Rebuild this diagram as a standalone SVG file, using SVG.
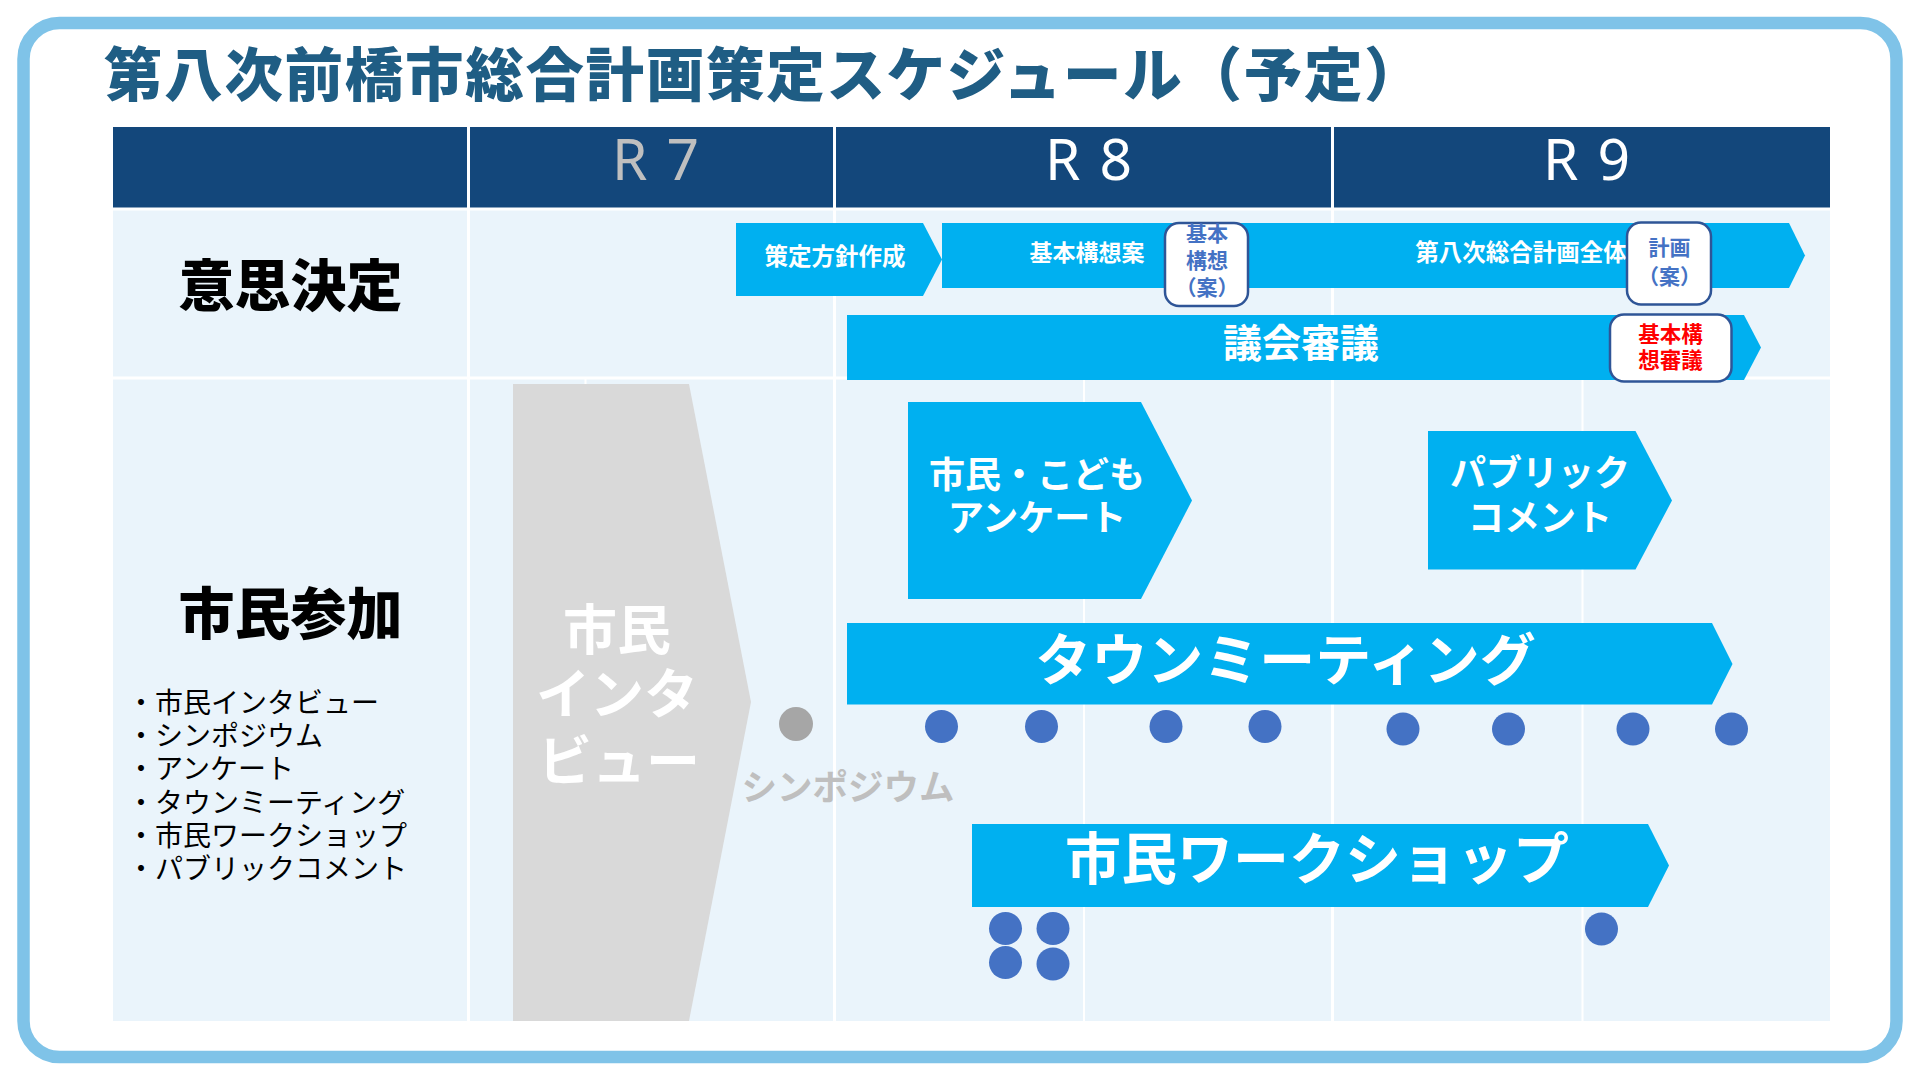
<svg xmlns="http://www.w3.org/2000/svg" width="1920" height="1080" viewBox="0 0 1920 1080">
<style>
.jp{font-family:"Noto Sans CJK JP","Noto Sans CJK SC",sans-serif}
.b{font-weight:700}
.h{font-weight:900}
.w{fill:#FFFFFF}
.cy{fill:#00B0F0}
.dot{fill:#4472C4}
.box{fill:#FFFFFF;stroke:#2F5597;stroke-width:2.5}
.yr{font-family:"Noto Sans","Open Sans",sans-serif;font-weight:400;font-size:57px;letter-spacing:19px}
.grid{stroke:#FFFFFF;stroke-width:3}
.sub{stroke:#FFFFFF;stroke-width:2}
.lst{font-size:28px;fill:#000000}
</style>
<rect x="0" y="0" width="1920" height="1080" fill="#FFFFFF"/>
<rect x="23.5" y="23" width="1873" height="1034" rx="36" ry="36" fill="#FFFFFF" stroke="#7FC3E8" stroke-width="12.5"/>
<text class="jp h" x="104" y="96" font-size="58.5" letter-spacing="1.7" fill="#1F5D84">第八次前橋市総合計画策定スケジュール（予定）</text>

<g id="table">
<rect x="113" y="127" width="1717" height="81" fill="#13477B"/>
<rect x="113" y="210" width="1717" height="811" fill="#EAF4FB"/>
<line class="grid" x1="113" y1="209" x2="1830" y2="209"/>
<line class="grid" x1="113" y1="378" x2="1830" y2="378"/>
<line class="grid" x1="468.5" y1="127" x2="468.5" y2="1021"/>
<line class="grid" x1="834.5" y1="127" x2="834.5" y2="1021"/>
<line class="grid" x1="1332.5" y1="127" x2="1332.5" y2="1021"/>
<line class="sub" x1="585.5" y1="379" x2="585.5" y2="1021"/>
<line class="sub" x1="1084" y1="379" x2="1084" y2="1021"/>
<line class="sub" x1="1582.5" y1="379" x2="1582.5" y2="1021"/>
<text class="yr" x="612" y="180" fill="#BFBFBF">R7</text>
<text class="yr" x="1045" y="180" fill="#FFFFFF">R8</text>
<text class="yr" x="1543" y="180" fill="#FFFFFF">R9</text>
<text class="jp h" x="290.5" y="306" font-size="56" text-anchor="middle" fill="#000000">意思決定</text>
<text class="jp h" x="290.5" y="634" font-size="56" text-anchor="middle" fill="#000000">市民参加</text>
<g class="jp lst">
<text x="127" y="712.5">・市民インタビュー</text>
<text x="127" y="745.5">・シンポジウム</text>
<text x="127" y="779">・アンケート</text>
<text x="127" y="812.5">・タウンミーティング</text>
<text x="127" y="845.5">・市民ワークショップ</text>
<text x="127" y="879">・パブリックコメント</text>
</g>
</g>

<g id="interview">
<polygon points="513,384 689,384 751,702 689,1021 513,1021" fill="#D9D9D9"/>
<g class="jp b w" font-size="54" text-anchor="middle">
<text x="617" y="650">市民</text>
<text x="617" y="714">インタ</text>
<text x="619" y="781">ビュー</text>
</g>
</g>

<g id="symposium">
<circle cx="796" cy="724" r="17" fill="#A6A6A6"/>
<text class="jp b" x="848" y="800" font-size="35.5" text-anchor="middle" fill="#BFBFBF">シンポジウム</text>
</g>

<g id="decision">
<g id="policy">
<polygon class="cy" points="736,223 923,223 942,259.5 923,296 736,296"/>
<text class="jp b w" x="835" y="265" font-size="23.5" text-anchor="middle">策定方針作成</text>
</g>
<g id="basic-draft">
<polygon class="cy" points="942,223 1210,223 1210,288 942,288"/>
<text class="jp b w" x="1087" y="261" font-size="23" text-anchor="middle">基本構想案</text>
</g>
<g id="whole-plan">
<polygon class="cy" points="1230,223 1789,223 1805,255.5 1789,288 1230,288"/>
<text class="jp b w" x="1521" y="261" font-size="23.5" text-anchor="middle">第八次総合計画全体</text>
</g>
<g id="basic-box">
<rect class="box" x="1165" y="223" width="83" height="83" rx="14"/>
<g class="jp b" font-size="21" fill="#4472C4" text-anchor="middle">
<text x="1207" y="241">基本</text>
<text x="1207" y="268">構想</text>
<text x="1207" y="295">（案）</text>
</g>
</g>
<g id="plan-box">
<rect class="box" x="1627" y="222.5" width="84" height="82" rx="14"/>
<g class="jp b" font-size="21" fill="#4472C4" text-anchor="middle">
<text x="1669.5" y="255">計画</text>
<text x="1669.5" y="284">（案）</text>
</g>
</g>
<g id="council">
<polygon class="cy" points="847,315 1744,315 1761,347.5 1744,380 847,380"/>
<text class="jp b w" x="1301" y="357" font-size="39" text-anchor="middle">議会審議</text>
</g>
<g id="council-box">
<rect class="box" x="1610" y="314.5" width="121.5" height="67" rx="14"/>
<g class="jp b" font-size="21.5" fill="#FF0000" text-anchor="middle">
<text x="1670.5" y="342">基本構</text>
<text x="1670.5" y="368">想審議</text>
</g>
</g>
</g>

<g id="survey">
<polygon class="cy" points="908,402 1141,402 1192,500.5 1141,599 908,599"/>
<g class="jp b w" font-size="36" text-anchor="middle">
<text x="1037" y="488">市民・こども</text>
<text x="1037" y="531">アンケート</text>
</g>
</g>

<g id="public-comment">
<polygon class="cy" points="1428,431 1635.5,431 1672,500.5 1635.5,569.5 1428,569.5"/>
<g class="jp b w" font-size="36" text-anchor="middle">
<text x="1540" y="486">パブリック</text>
<text x="1540" y="531">コメント</text>
</g>
</g>

<g id="town-meeting">
<polygon class="cy" points="847,623 1712,623 1732.5,664 1712,704.5 847,704.5"/>
<text class="jp b w" x="1285.5" y="680" font-size="56" text-anchor="middle">タウンミーティング</text>
<g class="dot">
<circle cx="941.5" cy="726.5" r="16.5"/>
<circle cx="1041.5" cy="726.5" r="16.5"/>
<circle cx="1166" cy="726.5" r="16.5"/>
<circle cx="1265" cy="726.5" r="16.5"/>
<circle cx="1403" cy="729" r="16.5"/>
<circle cx="1508.5" cy="729" r="16.5"/>
<circle cx="1633" cy="729" r="16.5"/>
<circle cx="1731.5" cy="729" r="16.5"/>
</g>
</g>

<g id="workshop">
<polygon class="cy" points="972,824 1648,824 1669,865.5 1648,907 972,907"/>
<text class="jp b w" x="1317" y="879" font-size="56" text-anchor="middle">市民ワークショップ</text>
<g class="dot">
<circle cx="1005.5" cy="928.5" r="16.5"/>
<circle cx="1053" cy="928.5" r="16.5"/>
<circle cx="1005.5" cy="962.5" r="16.5"/>
<circle cx="1053" cy="964" r="16.5"/>
<circle cx="1601.5" cy="929" r="16.5"/>
</g>
</g>

<g id="connectors"></g>
</svg>
